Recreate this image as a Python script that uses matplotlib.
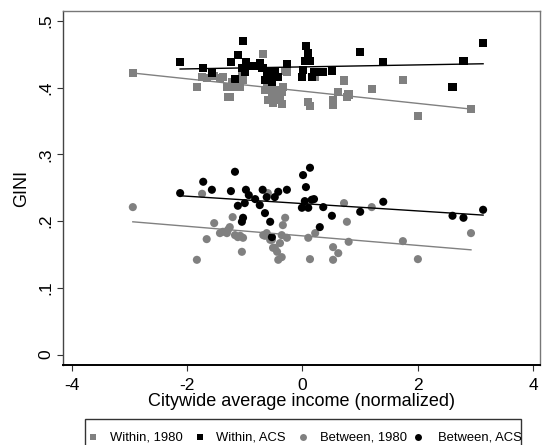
import numpy as np
import matplotlib
matplotlib.use("Agg")
import matplotlib.pyplot as plt
from matplotlib.patches import Rectangle
from matplotlib.lines import Line2D

plt.rcParams['font.family'] = ['Liberation Sans', 'DejaVu Sans']

# ---- data -------------------------------------------------------------
# 1980 cities: normalized citywide income, within- and between-tract GINI
x_1980 = [-2.94, -1.83, -1.74, -1.66, -1.53, -1.43, -1.38, -1.31, -1.29, -1.26,
          -1.21, -1.17, -1.12, -1.08, -1.05, -1.03, -0.68, -0.65, -0.62, -0.60,
          -0.56, -0.53, -0.51, -0.48, -0.44, -0.39, -0.36, -0.34, -0.30, -0.27,
          -0.42, -0.36, 0.10, 0.13, 0.22, 0.53, 0.53, 0.62, 0.72, 0.77,
          0.80, 1.20, 1.74, 2.00, 2.92]
within_1980 = [0.422, 0.401, 0.416, 0.415, 0.418, 0.415, 0.416, 0.401, 0.386, 0.386,
               0.409, 0.401, 0.406, 0.401, 0.424, 0.412, 0.451, 0.397, 0.400, 0.382,
               0.397, 0.389, 0.377, 0.386, 0.397, 0.386, 0.394, 0.401, 0.425, 0.424,
               0.382, 0.376, 0.379, 0.373, 0.416, 0.382, 0.374, 0.394, 0.411, 0.386,
               0.390, 0.398, 0.412, 0.358, 0.368]
between_1980 = [0.221, 0.142, 0.241, 0.173, 0.197, 0.182, 0.184, 0.182, 0.187, 0.191,
                0.206, 0.179, 0.176, 0.178, 0.154, 0.175, 0.179, 0.178, 0.182, 0.242,
                0.172, 0.172, 0.160, 0.160, 0.154, 0.167, 0.179, 0.194, 0.205, 0.175,
                0.142, 0.146, 0.175, 0.143, 0.182, 0.161, 0.142, 0.152, 0.227, 0.199,
                0.169, 0.221, 0.170, 0.143, 0.182]

# ACS cities
x_acs = [-2.12, -1.72, -1.57, -1.24, -1.17, -1.12, -1.05, -1.03, -0.98, -0.93,
         -1.00, -0.82, -0.74, -0.69, -0.65, -0.62, -0.56, -0.53, -0.48, -0.42,
         -0.27, -0.01, 0.01, 0.04, 0.06, 0.10, 0.13, 0.16, 0.20, 0.30,
         0.36, 0.51, 1.00, 1.40, 2.60, 2.79, 3.13]
within_acs = [0.439, 0.430, 0.422, 0.439, 0.413, 0.449, 0.430, 0.470, 0.439, 0.433,
              0.424, 0.433, 0.437, 0.430, 0.412, 0.424, 0.416, 0.409, 0.425, 0.416,
              0.436, 0.416, 0.427, 0.440, 0.463, 0.452, 0.440, 0.416, 0.424, 0.424,
              0.424, 0.425, 0.454, 0.439, 0.401, 0.440, 0.467]
between_acs = [0.242, 0.259, 0.247, 0.245, 0.274, 0.223, 0.199, 0.205, 0.247, 0.239,
               0.227, 0.233, 0.224, 0.247, 0.212, 0.236, 0.199, 0.176, 0.236, 0.244,
               0.247, 0.220, 0.269, 0.230, 0.251, 0.220, 0.280, 0.232, 0.233, 0.191,
               0.221, 0.208, 0.214, 0.229, 0.208, 0.205, 0.217]

# linear fits: (intercept, slope)
fit_within_1980 = (0.3949, -0.00922)
fit_within_acs = (0.4312, 0.0015)
fit_between_1980 = (0.1779, -0.00717)
fit_between_acs = (0.2263, -0.00552)

legend_labels = ["Within, 1980", "Within, ACS", "Between, 1980", "Between, ACS"]
x_ticks = [-4, -2, 0, 2, 4]
y_ticks = [0, 0.1, 0.2, 0.3, 0.4, 0.5]
y_ticklabels = ["0", ".1", ".2", ".3", ".4", ".5"]

# ---- figure -----------------------------------------------------------
GRAY = "#808080"
W, H = 544, 445
fig = plt.figure(figsize=(W / 100, H / 100), dpi=100)
ax = fig.add_axes([63 / W, 1 - 365 / H, (540 - 63) / W, (365 - 11) / H])

series = [
    (x_1980, within_1980, GRAY, "s", fit_within_1980),
    (x_acs, within_acs, "black", "s", fit_within_acs),
    (x_1980, between_1980, GRAY, "o", fit_between_1980),
    (x_acs, between_acs, "black", "o", fit_between_acs),
]

for xs, ys, col, mk, _ in series:
    ax.scatter(xs, ys, s=36 if mk == "s" else 34, marker=mk, color=col,
               edgecolors="none", zorder=2)

for xs, ys, col, mk, (b0, b1) in series:
    xr = np.array([min(xs), max(xs)])
    ax.plot(xr, b0 + b1 * xr, color=col, lw=1.0, zorder=3)

ax.set_xlim(-4.15, 4.116)
ax.set_ylim(-0.0157, 0.515)
ax.set_xticks(x_ticks)
ax.set_xticklabels([str(t) for t in x_ticks])
ax.set_yticks(y_ticks)
ax.set_yticklabels(y_ticklabels, rotation=90, va="center")
ax.tick_params(axis="both", direction="out", length=4.5, width=0.8,
               labelsize=12.5, color="#333333")
ax.tick_params(axis="x", pad=4.5)
ax.tick_params(axis="y", pad=2.5)

for side in ("top", "right"):
    ax.spines[side].set_color("#777777")
    ax.spines[side].set_linewidth(1.0)
ax.spines["left"].set_color("#444444")
ax.spines["left"].set_linewidth(1.0)
ax.spines["bottom"].set_color("black")
ax.spines["bottom"].set_linewidth(1.4)

ax.set_xlabel("Citywide average income (normalized)", fontsize=13, labelpad=0.5)
ax.set_ylabel("GINI", fontsize=13, labelpad=6)

# ---- legend box (extends past the bottom edge) ------------------------
fig.patches.append(Rectangle((85 / W, -0.05), (521 - 85) / W, 0.05 + 1 - 419 / H,
                             transform=fig.transFigure, fill=False,
                             edgecolor="#333333", lw=1.0))
key_x = [93, 200, 303, 418]
text_x = [110, 216, 320, 438]
key_style = [(GRAY, "s"), ("black", "s"), (GRAY, "o"), ("black", "o")]
ly = 1 - 437 / H
for kx, tx, (col, mk), lab in zip(key_x, text_x, key_style, legend_labels):
    fig.add_artist(Line2D([kx / W], [ly], marker=mk, color=col, markersize=5,
                          markeredgewidth=0, linestyle="none",
                          transform=fig.transFigure))
    fig.text(tx / W, ly, lab, fontsize=9.4, va="center", ha="left")

fig.savefig("out.png", dpi=100)
